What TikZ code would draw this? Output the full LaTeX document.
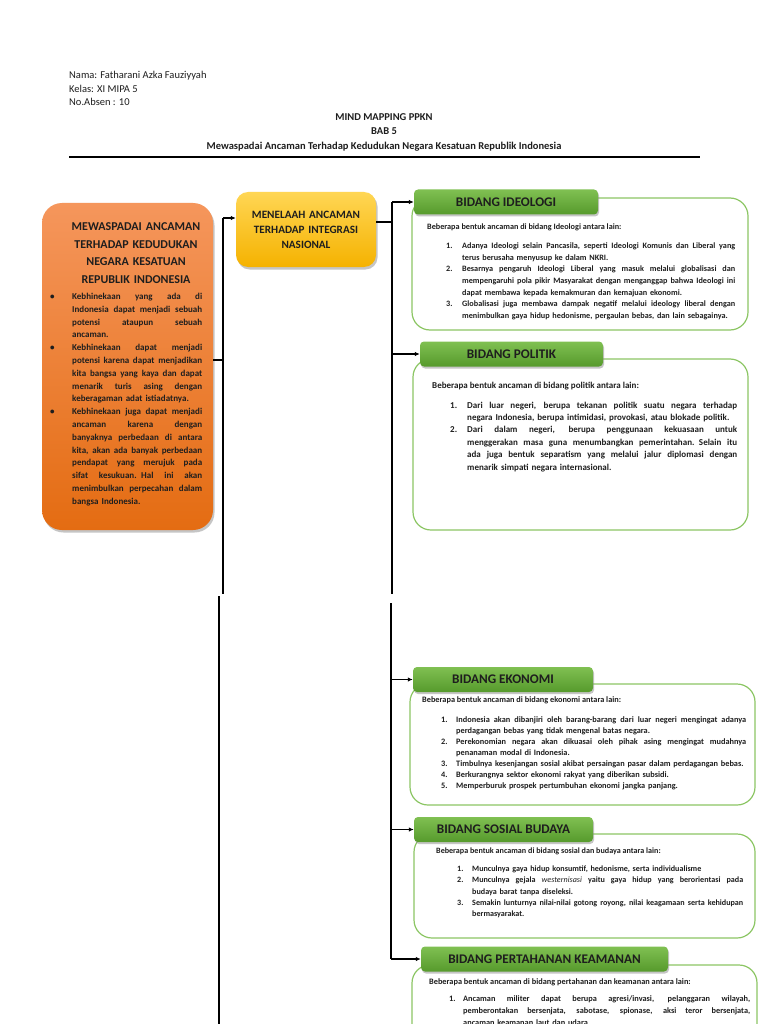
\documentclass[tikz,border=0pt]{standalone}
\usepackage{fontspec}
\setmainfont{Carlito}
\usepackage{tikz}
\usetikzlibrary{positioning,arrows.meta,shadows,calc}
\definecolor{otop}{RGB}{245,150,92}
\definecolor{obot}{RGB}{228,108,18}
\definecolor{ytop}{RGB}{255,214,84}
\definecolor{ybot}{RGB}{245,178,0}
\definecolor{gtop}{RGB}{128,192,82}
\definecolor{gbot}{RGB}{86,154,44}
\definecolor{gline}{RGB}{140,198,100}
\definecolor{ink}{RGB}{30,30,30}
\newlength{\numw}
\newcommand{\jline}[2]{\makebox[\numw][l]{#1}\makebox[\dimexpr\linewidth-\numw\relax][s]{\spaceskip=.3333em plus 10em\relax #2}\\}
\newcommand{\eline}[2]{\makebox[\numw][l]{#1}\mbox{#2}\\}

\begin{document}
\begin{tikzpicture}[x=1pt,y=-1pt,
  every node/.style={inner sep=0pt,text=ink},
  head/.style={anchor=base west,font=\fontsize{10.5}{13}\selectfont},
  ttl/.style={anchor=base,font=\bfseries\fontsize{10.5}{13}\selectfont},
  obox/.style={rounded corners=20pt,top color=otop,bottom color=obot,
    drop shadow={shadow xshift=1.5pt,shadow yshift=-2.5pt,fill=black!45,opacity=.5}},
  ybox/.style={rounded corners=12pt,top color=ytop,bottom color=ybot,align=center,
    drop shadow={shadow xshift=1.5pt,shadow yshift=-2.5pt,fill=black!45,opacity=.5}},
  hdr/.style={rounded corners=4pt,top color=gtop,bottom color=gbot,minimum height=25,
    font=\bfseries\fontsize{13.2}{15}\selectfont,
    drop shadow={shadow xshift=1pt,shadow yshift=-2pt,fill=black!45,opacity=.5}},
  cbox/.style={draw=gline,line width=1.2pt,rounded corners=18pt,fill=white},
  lst/.style={anchor=base west,align=left},
  ln/.style={line width=1.3pt,black},
  arr/.style={-{Latex[length=5pt,width=4.5pt]},line width=1.1pt,black},
]
\path[use as bounding box,clip] (0,0) rectangle (768,1024);
\fill[white] (0,0) rectangle (768,1024);

% Header
\node[head] (nama) at (69,78.5) {Nama: Fatharani Azka Fauziyyah};
\node[head] (kelas) at (69,92.5) {Kelas: XI MIPA 5};
\node[head] (absen) at (69,105.5) {No.Absen : 10};
\node[ttl] (mm) at (384,120.5) {MIND MAPPING PPKN};
\node[ttl] (bab) at (384,134.5) {BAB 5};
\node[ttl] (judul) at (384,149.5) {Mewaspadai Ancaman Terhadap Kedudukan Negara Kesatuan Republik Indonesia};
\draw[line width=1.4pt] (69,157) -- (700,157);

% Main topic
\node[obox,minimum width=171,minimum height=327] (o) at (127.5,366.5) {};
\node[anchor=base,text width=150,align=center,font=\bfseries\fontsize{12}{17.4}\selectfont] (tO) at (136,231)
  {MEWASPADAI ANCAMAN\\TERHADAP KEDUDUKAN\\NEGARA KESATUAN\\REPUBLIK INDONESIA};
\node[lst,text width=152,font=\bfseries\fontsize{9}{12.8}\selectfont] (bO) at (50,299.5) {\setlength\numw{22pt}%
  \jline{\textbullet}{Kebhinekaan yang ada di}
  \jline{}{Indonesia dapat menjadi sebuah}
  \jline{}{potensi ataupun sebuah}
  \eline{}{ancaman.}
  \jline{\textbullet}{Kebhinekaan dapat menjadi}
  \jline{}{potensi karena dapat menjadikan}
  \jline{}{kita bangsa yang kaya dan dapat}
  \jline{}{menarik turis asing dengan}
  \eline{}{keberagaman adat istiadatnya.}
  \jline{\textbullet}{Kebhinekaan juga dapat menjadi}
  \jline{}{ancaman karena dengan}
  \jline{}{banyaknya perbedaan di antara}
  \jline{}{kita, akan ada banyak perbedaan}
  \jline{}{pendapat yang merujuk pada}
  \jline{}{sifat kesukuan. Hal ini akan}
  \jline{}{menimbulkan perpecahan dalam}
  \eline{}{bangsa Indonesia.}};

% Sub topic
\node[ybox,text width=130,inner sep=5pt,minimum height=75,font=\bfseries\fontsize{11.2}{15}\selectfont] (y) at (306,229.5)
  {MENELAAH ANCAMAN\\TERHADAP INTEGRASI\\NASIONAL};

% Ideologi
\node[cbox,minimum width=336,minimum height=132] (cI) at (580,264) {};
\node[hdr,minimum width=184] (hI) at (506,202) {BIDANG IDEOLOGI};
\node[anchor=base west,font=\bfseries\fontsize{8.2}{11.7}\selectfont] (iI) at (427,229.5) {Beberapa bentuk ancaman di bidang Ideologi antara lain:};
\node[lst,text width=289,font=\bfseries\fontsize{8.2}{11.67}\selectfont] (lI) at (446,248.5) {\setlength\numw{16pt}%
  \jline{1.}{Adanya Ideologi selain Pancasila, seperti Ideologi Komunis dan Liberal yang}
  \eline{}{terus berusaha menyusup ke dalam NKRI.}
  \jline{2.}{Besarnya pengaruh Ideologi Liberal yang masuk melalui globalisasi dan}
  \jline{}{mempengaruhi pola pikir Masyarakat dengan menganggap bahwa Ideologi ini}
  \eline{}{dapat membawa kepada kemakmuran dan kemajuan ekonomi.}
  \jline{3.}{Globalisasi juga membawa dampak negatif melalui ideology liberal dengan}
  \eline{}{menimbulkan gaya hidup hedonisme, pergaulan bebas, dan lain sebagainya.}};

% Politik
\node[cbox,minimum width=335,minimum height=171] (cP) at (580.5,444.5) {};
\node[hdr,minimum width=183] (hP) at (511.5,354) {BIDANG POLITIK};
\node[anchor=base west,font=\bfseries\fontsize{9}{12.4}\selectfont] (iP) at (432,388) {Beberapa bentuk ancaman di bidang politik antara lain:};
\node[lst,text width=287,font=\bfseries\fontsize{9}{12.4}\selectfont] (lP) at (450,408) {\setlength\numw{17pt}%
  \jline{1.}{Dari luar negeri, berupa tekanan politik suatu negara terhadap}
  \eline{}{negara Indonesia, berupa intimidasi, provokasi, atau blokade politik.}
  \jline{2.}{Dari dalam negeri, berupa penggunaan kekuasaan untuk}
  \jline{}{menggerakan masa guna menumbangkan pemerintahan. Selain itu}
  \jline{}{ada juga bentuk separatism yang melalui jalur diplomasi dengan}
  \eline{}{menarik simpati negara internasional.}};

% Ekonomi
\node[cbox,minimum width=345,minimum height=121] (cE) at (582.5,744.5) {};
\node[hdr,minimum width=180] (hE) at (503,679.5) {BIDANG EKONOMI};
\node[anchor=base west,font=\bfseries\fontsize{8.3}{11}\selectfont] (iE) at (422,702) {Beberapa bentuk ancaman di bidang ekonomi antara lain:};
\node[lst,text width=305,font=\bfseries\fontsize{8.3}{11}\selectfont] (lE) at (441,722) {\setlength\numw{15pt}%
  \jline{1.}{Indonesia akan dibanjiri oleh barang-barang dari luar negeri mengingat adanya}
  \eline{}{perdagangan bebas yang tidak mengenal batas negara.}
  \jline{2.}{Perekonomian negara akan dikuasai oleh pihak asing mengingat mudahnya}
  \eline{}{penanaman modal di Indonesia.}
  \eline{3.}{Timbulnya kesenjangan sosial akibat persaingan pasar dalam perdagangan bebas.}
  \eline{4.}{Berkurangnya sektor ekonomi rakyat yang diberikan subsidi.}
  \eline{5.}{Memperburuk prospek pertumbuhan ekonomi jangka panjang.}};

% Sosial budaya
\node[cbox,minimum width=341,minimum height=104] (cS) at (584.5,886) {};
\node[hdr,minimum width=179] (hS) at (503.5,829.5) {BIDANG SOSIAL BUDAYA};
\node[anchor=base west,font=\bfseries\fontsize{8.1}{11.3}\selectfont] (iS) at (436,853) {Beberapa bentuk ancaman di bidang sosial dan budaya antara lain:};
\node[lst,text width=286,font=\bfseries\fontsize{8.1}{11.3}\selectfont] (lS) at (457,871.5) {\setlength\numw{15pt}%
  \eline{1.}{Munculnya gaya hidup konsumtif, hedonisme, serta individualisme}
  \jline{2.}{Munculnya gejala {\mdseries\itshape westernisasi} yaitu gaya hidup yang berorientasi pada}
  \eline{}{budaya barat tanpa diseleksi.}
  \jline{3.}{Semakin lunturnya nilai-nilai gotong royong, nilai keagamaan serta kehidupan}
  \eline{}{bermasyarakat.}};

% Pertahanan keamanan
\node[cbox,minimum width=345,minimum height=135] (cK) at (584.5,1032.5) {};
\node[hdr,minimum width=247] (hK) at (544.5,959) {BIDANG PERTAHANAN KEAMANAN};
\node[anchor=base west,font=\bfseries\fontsize{8.3}{12}\selectfont] (iK) at (429,984.5) {Beberapa bentuk ancaman di bidang pertahanan dan keamanan antara lain:};
\node[lst,text width=301,font=\bfseries\fontsize{8.3}{12}\selectfont] (lK) at (449,1001.5) {\setlength\numw{14pt}%
  \jline{1.}{Ancaman militer dapat berupa agresi/invasi, pelanggaran wilayah,}
  \jline{}{pemberontakan bersenjata, sabotase, spionase, aksi teror bersenjata,}
  \eline{}{ancaman keamanan laut dan udara}};

% Connectors
\coordinate (lt) at (223,218);
\coordinate (lm) at (223,360);
\coordinate (lb) at (223,594);
\coordinate (lc) at (219,596);
\coordinate (le) at (219,1030);
\coordinate (rt) at (392,202);
\coordinate (rm) at (392,222);
\coordinate (rb) at (392,594);
\coordinate (rc) at (391,603);
\draw[ln] (lm -| o.east) -- (lm);
\draw[ln] (lt) -- (lb);
\draw[ln] (lc) -- (le);
\draw[arr] (lt) -- (lt -| y.west);
\draw[ln] (rm -| y.east) -- (rm);
\draw[ln] (rt) -- (rb);
\draw[ln] (rc) -- (rc |- hK);
\draw[arr] (rt |- hI) -- (hI.west);
\draw[arr] (rt |- hP) -- (hP.west);
\draw[arr] (rc |- hE) -- (hE.west);
\draw[arr] (rc |- hS) -- (hS.west);
\draw[arr] (rc |- hK) -- (hK.west);
\end{tikzpicture}
\end{document}
